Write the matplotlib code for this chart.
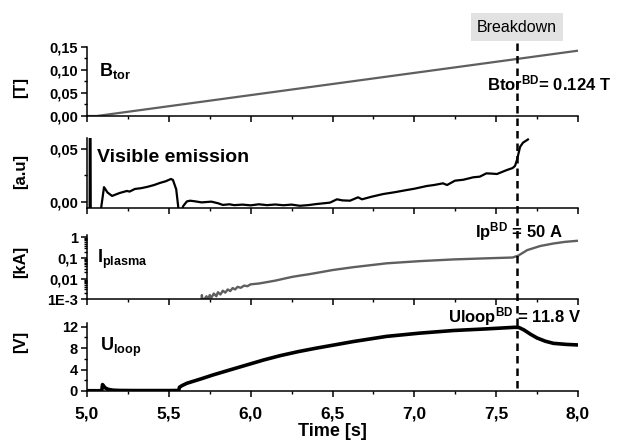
import numpy as np
import matplotlib
matplotlib.use("Agg")
import matplotlib.pyplot as plt
import matplotlib.ticker as mticker
import matplotlib.transforms as mtrans

plt.rcParams["font.family"] = ["Liberation Sans", "DejaVu Sans"]
plt.rcParams["font.weight"] = "bold"
plt.rcParams["mathtext.fontset"] = "custom"
plt.rcParams["mathtext.rm"] = "Liberation Sans:bold"
plt.rcParams["mathtext.it"] = "Liberation Sans:bold"
plt.rcParams["mathtext.bf"] = "Liberation Sans:bold"
plt.rcParams["mathtext.default"] = "rm"

# Data
t_breakdown = 7.63

btor_t = [5.0, 5.06, 8.0]
btor_v = [0.0, 0.0, 0.142]

vis_t = [5.012, 5.016, 5.019, 5.023, 5.06, 5.086, 5.104, 5.125, 5.153, 5.2, 5.244, 5.26,
         5.293, 5.33, 5.367, 5.41, 5.446, 5.48, 5.513, 5.525, 5.545, 5.56, 5.58, 5.587,
         5.61, 5.63, 5.66, 5.7, 5.76, 5.8, 5.83, 5.87, 5.9, 5.95, 6.0, 6.05, 6.1, 6.15,
         6.2, 6.25, 6.3, 6.35, 6.405, 6.45, 6.485, 6.527, 6.56, 6.607, 6.656, 6.68,
         6.74, 6.81, 6.88, 6.955, 7.0, 7.077, 7.12, 7.175, 7.2, 7.248, 7.3, 7.36, 7.4,
         7.44, 7.47, 7.505, 7.566, 7.6, 7.615, 7.627, 7.646, 7.664, 7.694]
vis_v = [-0.02, -0.02, 0.2, -0.02, -0.02, -0.006, 0.014, 0.009, 0.0057, 0.0085, 0.0104, 0.0098,
         0.0123, 0.013, 0.0142, 0.016, 0.018, 0.0195, 0.0217, 0.0208, 0.012, -0.008, -0.008, -0.004,
         0.0005, 0.0012, 0.0006, -0.0004, 0.0003, -0.0012, -0.0028, -0.0022, -0.003, -0.0025, -0.0032,
         -0.0022, -0.003, -0.0024, -0.0031, -0.0025, -0.0036, -0.003, -0.0019, -0.0012, -0.0006, 0.0025,
         0.0015, 0.0012, 0.0044, 0.0025, 0.005, 0.0075, 0.0092, 0.0113, 0.0125, 0.0151, 0.016, 0.0176,
         0.016, 0.0201, 0.021, 0.0233, 0.0239, 0.027, 0.0268, 0.0264, 0.0302, 0.032, 0.034, 0.0396,
         0.052, 0.056, 0.059]

ip_t = [5.700, 5.702, 5.705, 5.72, 5.73, 5.74, 5.75, 5.76, 5.775, 5.79, 5.80, 5.815, 5.83,
        5.845, 5.86, 5.875, 5.89, 5.905, 5.92, 5.94, 5.96, 5.98, 6.0, 6.05, 6.1, 6.15, 6.2,
        6.25, 6.3, 6.35, 6.42, 6.5, 6.63, 6.83, 7.03, 7.24, 7.44, 7.6, 7.635, 7.69, 7.77,
        7.85, 7.92, 8.0]
ip_v = [0.0008, 0.0016, 0.0009, 0.0011, 0.0014, 0.001, 0.0016, 0.0012, 0.0019, 0.0014, 0.0022,
        0.0017, 0.0026, 0.0021, 0.003, 0.0025, 0.0035, 0.003, 0.004, 0.0036, 0.0046, 0.0043,
        0.0053, 0.0058, 0.0068, 0.008, 0.0098, 0.012, 0.014, 0.016, 0.020, 0.026, 0.036, 0.055,
        0.07, 0.085, 0.096, 0.105, 0.13, 0.24, 0.38, 0.5, 0.6, 0.68]

u_t = [5.0, 5.09, 5.095, 5.10, 5.11, 5.13, 5.16, 5.2, 5.3, 5.4, 5.5, 5.56, 5.565, 5.58, 5.61,
       5.7, 5.77, 5.88, 5.98, 6.08, 6.18, 6.29, 6.4, 6.52, 6.63, 6.83, 7.03, 7.24, 7.44, 7.615,
       7.64, 7.67, 7.71, 7.75, 7.8, 7.85, 7.93, 8.0]
u_v = [0.05, 0.05, 1.2, 1.0, 0.6, 0.3, 0.15, 0.1, 0.08, 0.08, 0.08, 0.1, 0.7, 1.0, 1.44,
       2.3, 3.0, 4.0, 4.9, 5.8, 6.6, 7.35, 8.0, 8.65, 9.25, 10.2, 10.8, 11.3, 11.6, 11.9,
       11.85, 11.4, 10.6, 9.9, 9.3, 8.9, 8.7, 8.6]

W, H = 623, 448
fig = plt.figure(figsize=(W / 100, H / 100), dpi=100)


def fpos(x, y):
    return x / W, 1 - y / H


left, width = 87 / W, 491 / W
ax1 = fig.add_axes([left, 1 - 116 / H, width, 69 / H])
ax2 = fig.add_axes([left, 1 - 208 / H, width, 70 / H])
ax3 = fig.add_axes([left, 1 - 299.3 / H, width, 64.3 / H])
ax4 = fig.add_axes([left, 1 - 391 / H, width, 68 / H])
axes = [ax1, ax2, ax3, ax4]

gray = "#5f5f5f"
ax1.plot(btor_t, btor_v, color=gray, lw=1.6)
ax2.plot(vis_t, vis_v, color="black", lw=1.6)
ax3.plot(ip_t, ip_v, color=gray, lw=1.7)
ax4.plot(u_t, u_v, color="black", lw=2.6)

for ax in axes:
    ax.set_xlim(5, 8)
    for s in ["top", "right"]:
        ax.spines[s].set_visible(False)
    for s in ["left", "bottom"]:
        ax.spines[s].set_linewidth(1.1)
    ax.xaxis.set_major_locator(mticker.MultipleLocator(0.5))
    ax.xaxis.set_minor_locator(mticker.MultipleLocator(0.25))
    ax.tick_params(which="major", direction="out", length=4.5, width=1.1, labelsize=10.5, pad=2)
    ax.tick_params(which="minor", direction="out", length=2.5, width=1.0)
    ax.tick_params(axis="x", labelbottom=False)
    ax.patch.set_visible(False)

ax1.set_ylim(0, 0.15)
ax1.yaxis.set_major_locator(mticker.FixedLocator([0, 0.05, 0.10, 0.15]))
ax1.yaxis.set_minor_locator(mticker.MultipleLocator(0.025))
ax1.yaxis.set_major_formatter(mticker.FuncFormatter(lambda v, p: f"{v:.2f}".replace(".", ",")))

ax2.set_ylim(-0.0057, 0.0604)
ax2.yaxis.set_major_locator(mticker.FixedLocator([0, 0.05]))
ax2.yaxis.set_minor_locator(mticker.FixedLocator([0.025]))
ax2.yaxis.set_major_formatter(mticker.FuncFormatter(lambda v, p: f"{v:.2f}".replace(".", ",")))

ax3.set_yscale("log")
ax3.set_ylim(1e-3, 1.29)
ax3.yaxis.set_major_locator(mticker.FixedLocator([1e-3, 1e-2, 1e-1, 1]))
ax3.yaxis.set_minor_locator(mticker.LogLocator(base=10, subs=np.arange(2, 10)))
ax3.yaxis.set_minor_formatter(mticker.NullFormatter())
ax3.yaxis.set_major_formatter(mticker.FixedFormatter(["1E-3", "0,01", "0,1", "1"]))

ax4.set_ylim(0, 12.7)
ax4.yaxis.set_major_locator(mticker.FixedLocator([0, 4, 8, 12]))
ax4.yaxis.set_minor_locator(mticker.FixedLocator([2, 6, 10]))
ax4.tick_params(axis="x", labelbottom=True, labelsize=12.5, pad=7)
ax4.xaxis.set_major_formatter(mticker.FuncFormatter(lambda v, p: f"{v:.1f}".replace(".", ",")))
ax4.set_xlabel("Time [s]", fontsize=13, fontweight="bold", labelpad=1)

# y-axis unit labels
for lab, yc in [("[T]", 87), ("[a.u]", 171), ("[kA]", 262), ("[V]", 342)]:
    fig.text(*fpos(21, yc), lab, rotation=90, ha="center", va="center", fontsize=12, fontweight="bold")

# panel names
fig.text(*fpos(99, 76), r"$B_{tor}$", fontsize=13, ha="left", va="baseline")
fig.text(*fpos(97, 162), "Visible emission", fontsize=14, fontweight="bold", ha="left", va="baseline")
fig.text(*fpos(97, 263), r"$I_{plasma}$", fontsize=13, ha="left", va="baseline")
fig.text(*fpos(100, 351), r"$U_{loop}$", fontsize=13, ha="left", va="baseline")

# breakdown values
fig.text(*fpos(487, 90), r"Btor$^{BD}$= 0.124 T", fontsize=12, fontweight="bold", ha="left", va="baseline")
fig.text(*fpos(475, 237), r"Ip$^{BD}$ = 50 A", fontsize=12, fontweight="bold", ha="left", va="baseline")
fig.text(*fpos(448, 322), r"Uloop$^{BD}$ = 11.8 V", fontsize=12, fontweight="bold", ha="left", va="baseline")

fig.text(*fpos(517, 27), "Breakdown", fontsize=11.5, fontweight="normal", ha="center", va="center",
         bbox=dict(boxstyle="square,pad=0.4", facecolor="#e2e2e2", edgecolor="none"))

# dashed breakdown line across all panels
trans = mtrans.blended_transform_factory(ax4.transData, fig.transFigure)
fig.add_artist(plt.Line2D([t_breakdown, t_breakdown], [1 - 43 / H, 1 - 391 / H], transform=trans,
                          color="black", lw=1.8, dashes=(3, 2)))

fig.savefig("out.png", dpi=100)
